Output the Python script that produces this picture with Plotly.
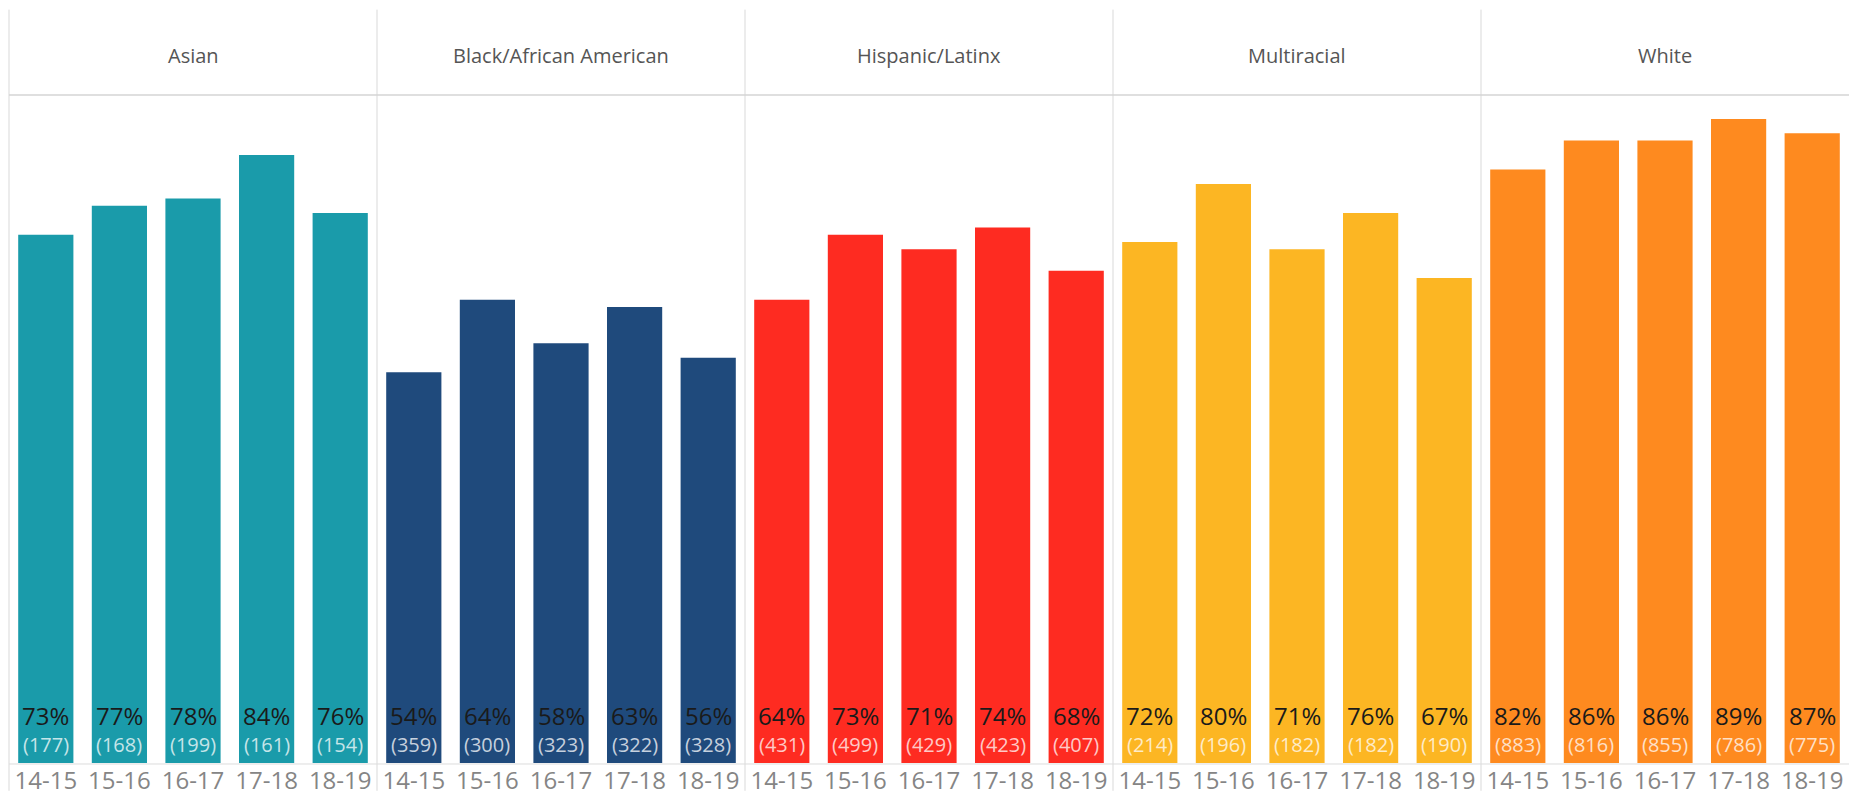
import plotly.graph_objects as go
from plotly.subplots import make_subplots

groups = ["Asian", "Black/African American", "Hispanic/Latinx", "Multiracial", "White"]
years = ["14-15", "15-16", "16-17", "17-18", "18-19"]

asian_pct = [73, 77, 78, 84, 76]
black_pct = [54, 64, 58, 63, 56]
hispanic_pct = [64, 73, 71, 74, 68]
multi_pct = [72, 80, 71, 76, 67]
white_pct = [82, 86, 86, 89, 87]

asian_n = [177, 168, 199, 161, 154]
black_n = [359, 300, 323, 322, 328]
hispanic_n = [431, 499, 429, 423, 407]
multi_n = [214, 196, 182, 182, 190]
white_n = [883, 816, 855, 786, 775]

pcts = [asian_pct, black_pct, hispanic_pct, multi_pct, white_pct]
counts = [asian_n, black_n, hispanic_n, multi_n, white_n]
colors = ["#1A9BAA", "#1F4A7C", "#FE2B21", "#FCB623", "#FE8A1F"]

W, H = 1849, 796
ML, MR, MT, MB = 9, 0, 95, 28
plot_h = H - MT - MB

fig = make_subplots(rows=1, cols=5, horizontal_spacing=0, shared_yaxes=True)

FONT = "Open Sans"

for i in range(5):
    fig.add_trace(
        go.Bar(
            x=years, y=pcts[i], marker_color=colors[i], marker_line_width=0,
            showlegend=False, hoverinfo="x+y",
        ),
        row=1, col=i + 1,
    )
    xr = "x" if i == 0 else f"x{i + 1}"
    yr = "y" if i == 0 else f"y{i + 1}"
    for j in range(5):
        fig.add_annotation(
            x=years[j], y=0, xref=xr, yref=yr, text=f"{pcts[i][j]}%",
            showarrow=False, yanchor="middle", yshift=48,
            font=dict(family=FONT, size=24, color="#1a1a1a"),
        )
        fig.add_annotation(
            x=years[j], y=0, xref=xr, yref=yr, text=f"({counts[i][j]})",
            showarrow=False, yanchor="middle", yshift=19,
            font=dict(family=FONT, size=20, color="rgba(255,255,255,0.75)"),
        )

def py_to_paper(py):
    return (H - MB - py) / plot_h

bounds = [0.0, 0.2, 0.4, 0.6, 0.8, 1.0]
for b in bounds[:-1]:
    fig.add_shape(type="line", xref="paper", yref="paper", x0=b, x1=b,
                  y0=py_to_paper(H), y1=py_to_paper(9),
                  line=dict(color="#d9d9d9", width=1), layer="below")
fig.add_shape(type="line", xref="paper", yref="paper", x0=0, x1=1,
              y0=1, y1=1, line=dict(color="#d4d4d4", width=1.5), layer="below")
fig.add_shape(type="line", xref="paper", yref="paper", x0=0, x1=1,
              y0=py_to_paper(H - MB + 1), y1=py_to_paper(H - MB + 1),
              line=dict(color="#dddddd", width=1), layer="below")

for i, g in enumerate(groups):
    fig.add_annotation(
        x=(bounds[i] + bounds[i + 1]) / 2, y=py_to_paper(55), xref="paper", yref="paper",
        text=g, showarrow=False, yanchor="middle", xanchor="center",
        font=dict(family=FONT, size=20, color="#555555"),
    )

fig.update_yaxes(range=[0, 92.3], visible=False, showgrid=False, zeroline=False)
fig.update_xaxes(showgrid=False, zeroline=False, showline=False, ticks="",
                 tickfont=dict(family=FONT, size=24, color="#858585"),
                 ticklabelstandoff=1)

fig.update_layout(
    width=W, height=H,
    margin=dict(l=ML, r=MR, t=MT, b=MB),
    bargap=0.25,
    plot_bgcolor="white", paper_bgcolor="white",
    font=dict(family=FONT),
)

fig.write_html(
    "out.html",
    config={"displayModeBar": False},
    post_script="document.body.style.margin='0';document.body.style.overflow='hidden';",
)
